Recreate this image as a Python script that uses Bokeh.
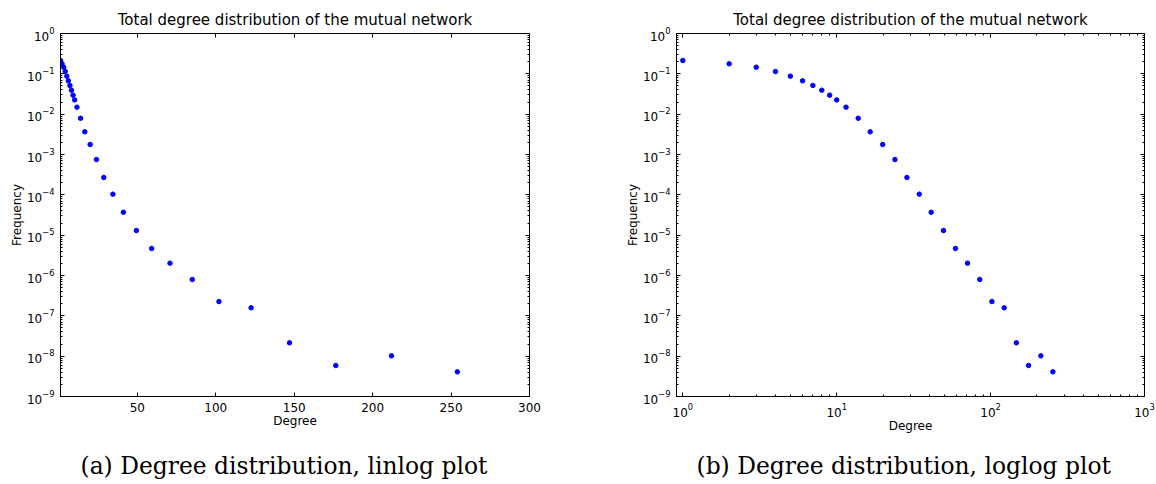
from bokeh.plotting import figure
from bokeh.models import (LinearAxis, LogAxis, FixedTicker, Title, Range1d,
                          CustomJSTickFormatter)
from bokeh.layouts import row
from bokeh.embed import file_html
from bokeh.resources import INLINE

# ---- data ----
degree = [1, 2, 3, 4, 5, 6, 7, 8, 9, 10, 11.5, 13.8, 16.5, 19.9, 23.9, 28.6,
          34.4, 41.1, 49.4, 59.1, 70.8, 85, 102, 122.5, 147, 176.5, 212, 254]
frequency = [0.214, 0.177, 0.146, 0.114, 0.0875, 0.067, 0.0514, 0.0393,
             0.0296, 0.0226, 0.0149, 0.0079, 0.00365, 0.00177, 7.5e-4,
             2.69e-4, 1.04e-4, 3.7e-5, 1.30e-5, 4.67e-6, 2.02e-6, 7.96e-7,
             2.26e-7, 1.58e-7, 2.14e-8, 5.87e-9, 1.02e-8, 4.08e-9]

title_text = "Total degree distribution of the mutual network"
x_label = "Degree"
y_label = "Frequency"
caption_a = "(a) Degree distribution, linlog plot"
caption_b = "(b) Degree distribution, loglog plot"

lin_x_ticks = [50, 100, 150, 200, 250, 300]
y_major = [10.0 ** e for e in range(-9, 1)]
y_minor = [k * 10.0 ** e for e in range(-9, 0) for k in range(2, 10)]
logx_major = [1, 10, 100, 1000]
logx_minor = [k * 10.0 ** e for e in range(0, 3) for k in range(2, 10)]

FONT = "DejaVu Sans"


def style_axis(ax, show_labels=True):
    ax.axis_line_color = "black"
    ax.axis_line_width = 1
    ax.major_tick_line_color = "black"
    ax.minor_tick_line_color = "black"
    ax.major_tick_in = 4
    ax.major_tick_out = 0
    ax.minor_tick_in = 2
    ax.minor_tick_out = 0
    ax.major_label_text_font = FONT
    ax.major_label_text_color = "black"
    ax.axis_label_text_font = FONT
    ax.axis_label_text_font_style = "normal"
    ax.axis_label_text_font_size = "12px"
    ax.axis_label_text_color = "black"
    if show_labels:
        ax.major_label_text_font_size = "12px"
        ax.major_label_standoff = 6
    else:
        ax.formatter = CustomJSTickFormatter(code="return ''")
        ax.major_label_text_font_size = "1px"
        ax.major_label_standoff = 0


def make_fig(xtype, x_range, xticks, xminor, left_border, right_border,
             caption, gap):
    p = figure(width=578, height=484, x_axis_type=xtype, y_axis_type="log",
               x_range=x_range, y_range=Range1d(1e-9, 1),
               output_backend="svg", toolbar_location=None,
               min_border_left=left_border, min_border_right=right_border,
               min_border_top=33, min_border_bottom=88)
    p.grid.visible = False
    p.outline_line_color = "black"
    p.background_fill_color = "white"
    p.border_fill_color = "white"

    p.title.text = title_text
    p.title.align = "center"
    p.title.text_font = FONT
    p.title.text_font_size = "15px"
    p.title.text_font_style = "normal"
    p.title.text_color = "black"

    p.xaxis.ticker = FixedTicker(ticks=xticks, minor_ticks=xminor)
    p.yaxis.ticker = FixedTicker(ticks=y_major, minor_ticks=y_minor)
    p.xaxis.axis_label = x_label
    p.yaxis.axis_label = y_label
    style_axis(p.xaxis[0])
    style_axis(p.yaxis[0])
    p.xaxis.axis_label_standoff = -1
    p.yaxis.axis_label_standoff = 0

    top = (LogAxis if xtype == "log" else LinearAxis)(
        ticker=FixedTicker(ticks=xticks, minor_ticks=xminor))
    style_axis(top, show_labels=False)
    p.add_layout(top, "above")
    right = LogAxis(ticker=FixedTicker(ticks=y_major, minor_ticks=y_minor))
    style_axis(right, show_labels=False)
    p.add_layout(right, "right")

    # invisible spacer between the x axis and the caption
    spacer = (LogAxis if xtype == "log" else LinearAxis)(
        ticker=FixedTicker(ticks=xticks, minor_ticks=[]))
    style_axis(spacer, show_labels=False)
    spacer.major_tick_in = 0
    spacer.major_tick_out = gap
    spacer.axis_line_alpha = 0
    spacer.major_tick_line_alpha = 0
    spacer.minor_tick_line_alpha = 0
    p.add_layout(spacer, "below")

    p.scatter(degree, frequency, size=4.5, color="#0000ff")

    cap = Title(text=caption, align="left", offset=20,
                text_font="DejaVu Serif", text_font_size="23.4px",
                text_font_style="normal", text_color="black", standoff=2)
    p.add_layout(cap, "below")
    return p


p1 = make_fig("linear", Range1d(1, 300), lin_x_ticks, [], 60, 49, caption_a, 18)
p2 = make_fig("log", Range1d(0.91, 1000), logx_major, logx_minor, 98, 12,
              caption_b, 13)

layout = row(p1, p2)
open("out.html", "w").write(file_html(layout, INLINE))
